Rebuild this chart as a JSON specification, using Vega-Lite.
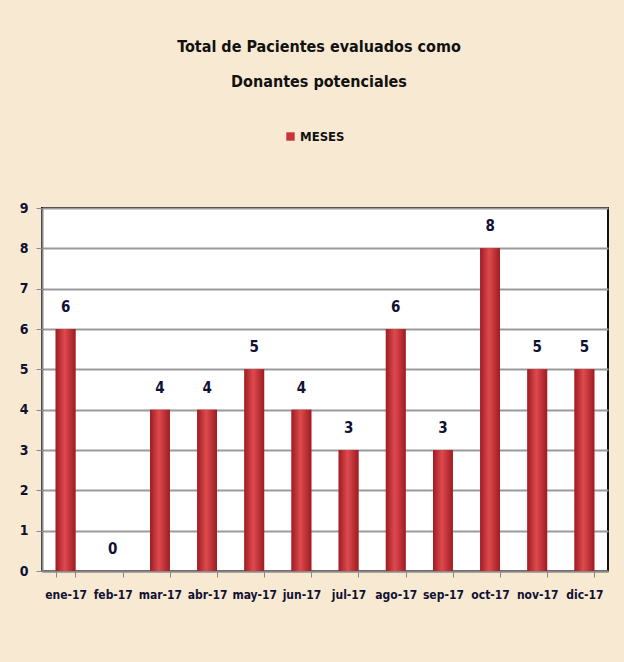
{
  "$schema": "https://vega.github.io/schema/vega-lite/v6.json",
  "width": 566,
  "height": 363,
  "autosize": {"type": "none"},
  "padding": {"left": 42, "top": 208, "right": 16, "bottom": 91},
  "background": "#f8ead2",
  "title": {
    "text": ["Total de Pacientes evaluados como", "Donantes potenciales"],
    "font": "DejaVu Sans Condensed",
    "fontSize": 16,
    "fontWeight": "bold",
    "color": "#111111",
    "anchor": "middle",
    "lineHeight": 35,
    "offset": 40,
    "dx": -6
  },
  "data": {
    "values": [
      {"mes": "ene-17", "valor": 6, "serie": "MESES"},
      {"mes": "feb-17", "valor": 0, "serie": "MESES"},
      {"mes": "mar-17", "valor": 4, "serie": "MESES"},
      {"mes": "abr-17", "valor": 4, "serie": "MESES"},
      {"mes": "may-17", "valor": 5, "serie": "MESES"},
      {"mes": "jun-17", "valor": 4, "serie": "MESES"},
      {"mes": "jul-17", "valor": 3, "serie": "MESES"},
      {"mes": "ago-17", "valor": 6, "serie": "MESES"},
      {"mes": "sep-17", "valor": 3, "serie": "MESES"},
      {"mes": "oct-17", "valor": 8, "serie": "MESES"},
      {"mes": "nov-17", "valor": 5, "serie": "MESES"},
      {"mes": "dic-17", "valor": 5, "serie": "MESES"}
    ]
  },
  "encoding": {
    "x": {
      "field": "mes",
      "type": "ordinal",
      "sort": null,
      "scale": {"paddingInner": 0.58, "paddingOuter": 0.29},
      "axis": {
        "title": null,
        "labelAngle": 0,
        "labelFont": "DejaVu Sans Condensed",
        "labelFontWeight": "bold",
        "labelFontSize": 12,
        "labelColor": "#111133",
        "labelPadding": 12,
        "tickBand": "extent",
        "tickColor": "#888888",
        "tickSize": 6,
        "domainColor": "#888888",
        "domainWidth": 2
      }
    },
    "y": {
      "field": "valor",
      "type": "quantitative",
      "scale": {"domain": [0, 9]},
      "axis": {
        "title": null,
        "values": [0, 1, 2, 3, 4, 5, 6, 7, 8, 9],
        "labelFont": "DejaVu Sans Condensed",
        "labelFontWeight": "bold",
        "labelFontSize": 14,
        "labelColor": "#111133",
        "labelPadding": 8,
        "tickColor": "#888888",
        "tickSize": 6,
        "domainColor": "#888888",
        "domainWidth": 2,
        "gridColor": "#9a9a9a",
        "gridWidth": 2
      }
    }
  },
  "layer": [
    {
      "mark": {"type": "bar"},
      "encoding": {
        "color": {
          "field": "serie",
          "type": "nominal",
          "scale": {"range": ["#c8343a"]},
          "legend": {
            "title": null,
            "orient": "none",
            "legendX": 242,
            "legendY": -78,
            "direction": "horizontal",
            "symbolType": "square",
            "symbolSize": 70,
            "symbolStrokeWidth": 0,
            "labelFont": "DejaVu Sans Condensed",
            "labelFontWeight": "bold",
            "labelFontSize": 13,
            "labelColor": "#111111",
            "labelOffset": 3
          }
        }
      }
    },
    {
      "mark": {
        "type": "bar",
        "color": {
          "gradient": "linear",
          "x1": 0, "x2": 1, "y1": 0, "y2": 0,
          "stops": [
            {"offset": 0, "color": "#9e1c22"},
            {"offset": 0.45, "color": "#de4a4e"},
            {"offset": 1, "color": "#9e1c22"}
          ]
        }
      }
    },
    {
      "mark": {
        "type": "text",
        "baseline": "bottom",
        "dy": -14,
        "font": "DejaVu Sans Condensed",
        "fontWeight": "bold",
        "fontSize": 15,
        "color": "#111133"
      },
      "encoding": {"text": {"field": "valor", "type": "quantitative"}}
    }
  ],
  "config": {
    "view": {"fill": "#ffffff", "stroke": "#111111", "strokeWidth": 2}
  }
}
